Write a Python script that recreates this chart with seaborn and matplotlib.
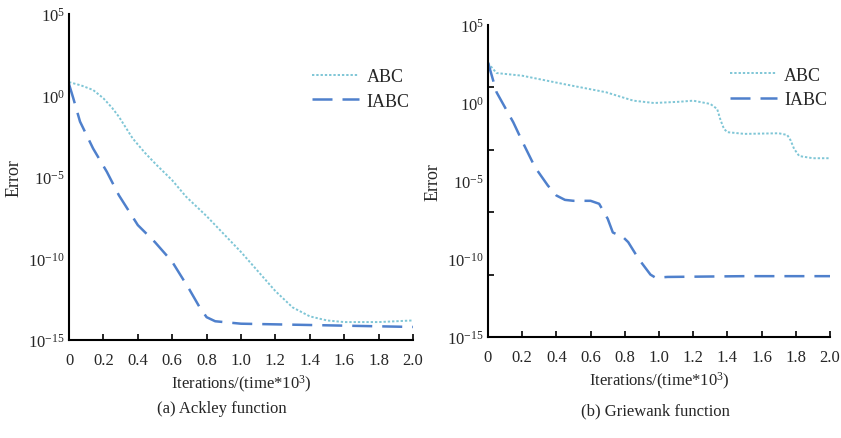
import numpy as np
import pandas as pd
import matplotlib
matplotlib.use("Agg")
import matplotlib.pyplot as plt
import seaborn as sns
from matplotlib.ticker import FixedLocator, FixedFormatter, NullFormatter

sns.set_theme(style="white")
plt.rcParams["font.family"] = ["Liberation Serif", "DejaVu Serif"]
plt.rcParams["mathtext.fontset"] = "custom"
plt.rcParams["mathtext.rm"] = "Liberation Serif"
plt.rcParams["mathtext.it"] = "Liberation Serif:italic"

# Ackley function: iterations (x10^3) and log10(error)
ackley_abc_x = [0, 0.07, 0.14, 0.2, 0.25, 0.29, 0.37, 0.44, 0.51, 0.6, 0.68, 0.8, 0.9, 1.0,
                1.1, 1.2, 1.3, 1.4, 1.5, 1.6, 1.8, 2.0]
ackley_abc_log = [0.82, 0.62, 0.34, -0.17, -0.75, -1.3, -2.63, -3.5, -4.27, -5.2, -6.2, -7.4, -8.5, -9.6,
                  -10.8, -12.0, -13.0, -13.55, -13.8, -13.9, -13.9, -13.8]
ackley_iabc_x = [0, 0.025, 0.064, 0.14, 0.22, 0.29, 0.4, 0.5, 0.6, 0.7, 0.76, 0.8, 0.85, 1.0, 1.5, 2.0]
ackley_iabc_log = [0.7, -0.17, -1.6, -3.25, -4.68, -6.12, -7.95, -9.0, -10.2, -11.9, -13.0, -13.6, -13.85,
                   -14.0, -14.1, -14.2]

# Griewank function
griewank_abc_x = [0, 0.05, 0.2, 0.44, 0.69, 0.85, 0.97, 1.12, 1.2, 1.3, 1.34, 1.36, 1.38, 1.4, 1.5,
                  1.7, 1.75, 1.77, 1.79, 1.82, 1.9, 2.0]
griewank_abc_log = [2.56, 1.92, 1.75, 1.22, 0.69, 0.15, 0.0, 0.08, 0.15, -0.06, -0.38, -1.1, -1.66, -1.87,
                    -1.98, -1.94, -2.05, -2.4, -2.94, -3.4, -3.54, -3.54]
griewank_iabc_x = [0, 0.05, 0.148, 0.2, 0.275, 0.35, 0.4, 0.45, 0.5, 0.6, 0.65, 0.7, 0.73, 0.76, 0.78,
                   0.82, 0.88, 0.95, 0.98, 1.05, 1.5, 2.0]
griewank_iabc_log = [2.6, 0.69, -1.24, -2.45, -4.12, -5.29, -5.93, -6.21, -6.27, -6.27, -6.46, -7.42, -8.3,
                     -8.45, -8.49, -8.92, -9.98, -11.0, -11.2, -11.15, -11.1, -11.1]

xticks = [0, 0.2, 0.4, 0.6, 0.8, 1.0, 1.2, 1.4, 1.6, 1.8, 2.0]
xtick_labels = ["0", "0.2", "0.4", "0.6", "0.8", "1.0", "1.2", "1.4", "1.6", "1.8", "2.0"]
ytick_exps = [5, 0, -5, -10, -15]
right_tick_exps = [5, 1, -3, -7, -11, -15]

abc_color = "#7fc6d6"
iabc_color = "#4f80cc"


def make_frame(abc_x, abc_log, iabc_x, iabc_log):
    df_abc = pd.DataFrame({"x": abc_x, "err": 10.0 ** np.array(abc_log), "method": "ABC"})
    df_iabc = pd.DataFrame({"x": iabc_x, "err": 10.0 ** np.array(iabc_log), "method": "IABC"})
    return pd.concat([df_abc, df_iabc], ignore_index=True)


def draw_panel(ax, df, legend_anchor, mark_exps):
    sns.lineplot(data=df, x="x", y="err", hue="method", style="method",
                 palette={"ABC": abc_color, "IABC": iabc_color},
                 dashes={"ABC": (1.2, 1.0), "IABC": (8, 4)},
                 ax=ax, legend=False, sort=False)
    ax.lines[0].set_linewidth(1.4)
    ax.lines[1].set_linewidth(1.8)
    ax.set_yscale("log")
    ax.set_ylim(1e-15, 1e5)
    ax.set_xlim(0, 2.0)
    ax.xaxis.set_major_locator(FixedLocator(xticks))
    ax.xaxis.set_major_formatter(FixedFormatter(xtick_labels))
    ax.yaxis.set_major_locator(FixedLocator([10.0 ** e for e in ytick_exps]))
    ax.yaxis.set_major_formatter(FixedFormatter([r"$\mathregular{10^{%d}}$" % e for e in ytick_exps]))
    # tick marks on the y axis (drawn as minor ticks, no labels)
    ax.yaxis.set_minor_locator(FixedLocator([10.0 ** e for e in mark_exps]))
    ax.yaxis.set_minor_formatter(NullFormatter())
    ax.tick_params(axis="y", which="minor", direction="in", length=4, width=1.2, color="black", left=True)
    ax.tick_params(axis="x", direction="in", length=4, width=1.2, color="black", bottom=True,
                   labelsize=12, pad=9)
    ax.tick_params(axis="y", which="major", length=0, labelsize=12, pad=3)
    for side in ["top", "right"]:
        ax.spines[side].set_visible(False)
    for side in ["left", "bottom"]:
        ax.spines[side].set_color("black")
        ax.spines[side].set_linewidth(1.5)
    ax.set_xlabel(r"Iterations/(time*10$^{3}$)", fontsize=12, labelpad=3)
    ax.set_ylabel("Error", fontsize=13, labelpad=4)
    handles = ax.lines[:2]
    ax.legend(handles, ["ABC", "IABC"], loc="center left", bbox_to_anchor=legend_anchor,
              frameon=False, fontsize=13, handlelength=2.6, labelspacing=0.4, handletextpad=0.4)


fig = plt.figure(figsize=(8.41, 4.39), dpi=100)
ax1 = fig.add_axes([69 / 841, 1 - 341 / 439, 344 / 841, 326 / 439])
ax2 = fig.add_axes([488 / 841, 1 - 338 / 439, 342 / 841, 312 / 439])

draw_panel(ax1, make_frame(ackley_abc_x, ackley_abc_log, ackley_iabc_x, ackley_iabc_log),
           (0.66, 0.77), [0, -5, -10])
draw_panel(ax2, make_frame(griewank_abc_x, griewank_abc_log, griewank_iabc_x, griewank_iabc_log),
           (0.66, 0.8), right_tick_exps)

fig.text(222 / 841, 1 - 409 / 439, "(a) Ackley function", ha="center", va="center", fontsize=12)
fig.text(655 / 841, 1 - 411 / 439, "(b) Griewank function", ha="center", va="center", fontsize=12)

fig.savefig("out.png", dpi=100)
